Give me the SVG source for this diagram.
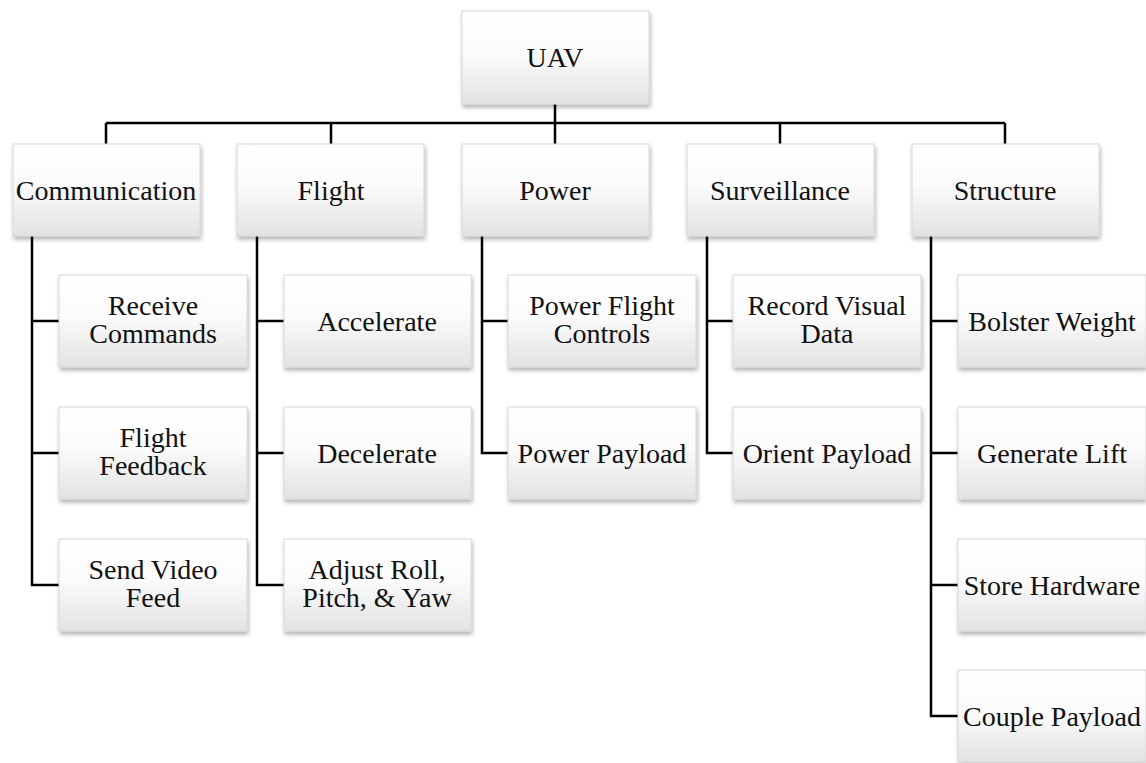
<svg xmlns="http://www.w3.org/2000/svg" width="1146" height="763" viewBox="0 0 1146 763">
<style>
.box{fill:url(#g);stroke:#d8d8d8;stroke-width:1;filter:url(#sh)}
.t{font-family:"Liberation Serif","Times New Roman",serif;font-size:28px;fill:#111;text-anchor:middle}
.c{fill:none;stroke:#000;stroke-width:2.5}
</style>
<defs>
<linearGradient id="g" x1="0" y1="0" x2="0" y2="1">
<stop offset="0" stop-color="#ffffff"/>
<stop offset="0.45" stop-color="#fbfbfb"/>
<stop offset="1" stop-color="#e2e2e2"/>
</linearGradient>
<filter id="sh" x="-10%" y="-10%" width="125%" height="130%">
<feDropShadow dx="1" dy="3" stdDeviation="2" flood-color="#000" flood-opacity="0.3"/>
</filter>
</defs>
<rect width="1146" height="763" fill="#fff"/>
<g id="connectors">
<path class="c" d="M555 104V123M106 123H1005M106 123V144M331 123V144M555 123V144M780 123V144M1005 123V144"/>
<path class="c" d="M32 236V585H59M32 321H59M32 453H59"/>
<path class="c" d="M257 236V585H284M257 321H284M257 453H284"/>
<path class="c" d="M482 236V453H508M482 321H508"/>
<path class="c" d="M707 236V453H733M707 321H733"/>
<path class="c" d="M931 236V716H958M931 321H958M931 453H958M931 585H958"/>
</g>
<g id="uav"><rect class="box" x="462" y="11" width="187" height="93"/><text class="t" x="555" y="67">UAV</text></g>
<g id="communication"><rect class="box" x="13" y="144" width="187" height="92"/><text class="t" x="106" y="200">Communication</text></g>
<g id="flight"><rect class="box" x="237" y="144" width="187" height="92"/><text class="t" x="331" y="200">Flight</text></g>
<g id="power"><rect class="box" x="462" y="144" width="187" height="92"/><text class="t" x="555" y="200">Power</text></g>
<g id="surveillance"><rect class="box" x="687" y="144" width="187" height="92"/><text class="t" x="780" y="200">Surveillance</text></g>
<g id="structure"><rect class="box" x="912" y="144" width="187" height="92"/><text class="t" x="1005" y="200">Structure</text></g>

<g id="receive-commands"><rect class="box" x="59" y="275" width="188" height="92"/><text class="t" x="153" y="315">Receive</text><text class="t" x="153" y="343">Commands</text></g>
<g id="flight-feedback"><rect class="box" x="59" y="407" width="188" height="92"/><text class="t" x="153" y="447">Flight</text><text class="t" x="153" y="475">Feedback</text></g>
<g id="send-video-feed"><rect class="box" x="59" y="539" width="188" height="92"/><text class="t" x="153" y="579">Send Video</text><text class="t" x="153" y="607">Feed</text></g>

<g id="accelerate"><rect class="box" x="284" y="275" width="187" height="92"/><text class="t" x="377" y="331">Accelerate</text></g>
<g id="decelerate"><rect class="box" x="284" y="407" width="187" height="92"/><text class="t" x="377" y="463">Decelerate</text></g>
<g id="adjust"><rect class="box" x="284" y="539" width="187" height="92"/><text class="t" x="377" y="579">Adjust Roll,</text><text class="t" x="377" y="607">Pitch, &amp; Yaw</text></g>

<g id="power-flight-controls"><rect class="box" x="508" y="275" width="188" height="92"/><text class="t" x="602" y="315">Power Flight</text><text class="t" x="602" y="343">Controls</text></g>
<g id="power-payload"><rect class="box" x="508" y="407" width="188" height="92"/><text class="t" x="602" y="463">Power Payload</text></g>

<g id="record-visual-data"><rect class="box" x="733" y="275" width="188" height="92"/><text class="t" x="827" y="315">Record Visual</text><text class="t" x="827" y="343">Data</text></g>
<g id="orient-payload"><rect class="box" x="733" y="407" width="188" height="92"/><text class="t" x="827" y="463">Orient Payload</text></g>

<g id="bolster-weight"><rect class="box" x="958" y="275" width="188" height="92"/><text class="t" x="1052" y="331">Bolster Weight</text></g>
<g id="generate-lift"><rect class="box" x="958" y="407" width="188" height="92"/><text class="t" x="1052" y="463">Generate Lift</text></g>
<g id="store-hardware"><rect class="box" x="958" y="539" width="188" height="92"/><text class="t" x="1052" y="595">Store Hardware</text></g>
<g id="couple-payload"><rect class="box" x="958" y="670" width="188" height="92"/><text class="t" x="1052" y="726">Couple Payload</text></g>
</svg>
